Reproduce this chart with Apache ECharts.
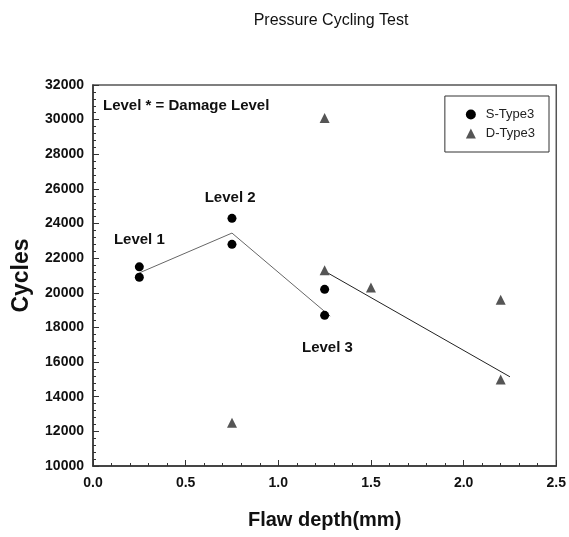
<!DOCTYPE html>
<html lang="en">
<head>
  <meta charset="UTF-8">
  <title>Pressure Cycling Test</title>
  <style>
    html, body { margin: 0; padding: 0; background: #fff; }
    #chart { width: 569px; height: 537px; }
  </style>
  <script src="https://cdn.jsdelivr.net/npm/echarts@6/dist/echarts.min.js"></script>
</head>
<body>
  <div id="chart"></div>
  <script>
    // measured points, flaw depth (mm) vs cycles
    const sTypeDepth = [0.25, 0.25, 0.75, 0.75, 1.25, 1.25];
    const sTypeCycles = [21500, 20900, 24300, 22800, 20200, 18700];
    const dTypeDepth = [0.75, 1.25, 1.25, 1.5, 2.2, 2.2];
    const dTypeCycles = [12500, 30100, 21300, 20300, 19600, 15000];

    // hand drawn trend lines
    const sTrendDepth = [0.25, 0.75, 1.28];
    const sTrendCycles = [21150, 23450, 18650];
    const dTrendDepth = [1.25, 2.25];
    const dTrendCycles = [21250, 15150];

    // damage level notes
    const noteText = ['Level 1', 'Level 2', 'Level 3'];
    const noteDepth = [0.25, 0.74, 1.265];
    const noteCycles = [23050, 25500, 16800];

    const font = 'Liberation Sans, Arial, sans-serif';
    const zip = (xs, ys) => xs.map((x, i) => [x, ys[i]]);

    const myChart = echarts.init(document.getElementById('chart'));

    const option = {
      animation: false,
      title: {
        text: 'Pressure Cycling Test',
        left: 326,
        top: 8,
        textAlign: 'center',
        textStyle: { fontFamily: font, fontSize: 16, fontWeight: 'normal', color: '#111' }
      },
      legend: {
        data: ['S-Type3', 'D-Type3'],
        orient: 'vertical',
        right: 20,
        top: 96,
        padding: [12, 14, 12, 21],
        itemGap: 6,
        itemWidth: 10,
        itemHeight: 10,
        borderColor: '#333',
        borderWidth: 1,
        textStyle: { fontFamily: font, fontSize: 13, color: '#222', padding: [0, 0, 0, 5] }
      },
      grid: {
        left: 93, right: 10, top: 85, bottom: 71,
        show: true,
        borderColor: '#555',
        borderWidth: 1.5
      },
      xAxis: {
        type: 'value',
        min: 0, max: 2.5, interval: 0.5,
        name: 'Flaw depth(mm)',
        nameLocation: 'middle',
        nameGap: 44,
        nameTextStyle: { fontFamily: font, fontSize: 20, fontWeight: 'bold', color: '#111' },
        axisLine: { lineStyle: { color: '#333', width: 1.5 } },
        axisTick: { inside: true, length: 6, lineStyle: { color: '#333' } },
        minorTick: { show: true, splitNumber: 5, length: 3, lineStyle: { color: '#333' } },
        splitLine: { show: false },
        axisLabel: {
          margin: 10,
          fontFamily: font, fontSize: 14, fontWeight: 'bold', color: '#111',
          formatter: v => v.toFixed(1)
        }
      },
      yAxis: {
        type: 'value',
        min: 10000, max: 32000, interval: 2000,
        name: 'Cycles',
        nameLocation: 'middle',
        nameGap: 60,
        nameTextStyle: { fontFamily: font, fontSize: 23, fontWeight: 'bold', color: '#111' },
        axisLine: { lineStyle: { color: '#333', width: 1.5 } },
        axisTick: { inside: true, length: 6, lineStyle: { color: '#333' } },
        minorTick: { show: true, splitNumber: 5, length: 3, lineStyle: { color: '#333' } },
        splitLine: { show: false },
        axisLabel: {
          margin: 9, fontFamily: font, fontSize: 14, fontWeight: 'bold', color: '#111',
          formatter: v => String(v)
        }
      },
      graphic: [{
        type: 'text',
        left: 103,
        top: 98,
        style: {
          text: 'Level * = Damage Level',
          font: 'bold 15px ' + font,
          fill: '#111'
        }
      }],
      series: [
        {
          name: 'S-trend',
          type: 'line',
          data: zip(sTrendDepth, sTrendCycles),
          symbol: 'none',
          lineStyle: { color: '#666', width: 1 },
          z: 1
        },
        {
          name: 'D-trend',
          type: 'line',
          data: zip(dTrendDepth, dTrendCycles),
          symbol: 'none',
          lineStyle: { color: '#222', width: 1 },
          z: 1
        },
        {
          name: 'S-Type3',
          type: 'scatter',
          data: zip(sTypeDepth, sTypeCycles),
          symbol: 'circle',
          symbolSize: 9,
          itemStyle: { color: '#000', opacity: 1 },
          z: 3
        },
        {
          name: 'D-Type3',
          type: 'scatter',
          data: zip(dTypeDepth, dTypeCycles),
          symbol: 'triangle',
          symbolSize: 10,
          itemStyle: { color: '#555', opacity: 1 },
          z: 3
        },
        {
          name: 'notes',
          type: 'scatter',
          data: noteText.map((t, i) => ({ name: t, value: [noteDepth[i], noteCycles[i]] })),
          symbolSize: 0,
          silent: true,
          itemStyle: { opacity: 1 },
          label: {
            show: true,
            position: 'inside',
            formatter: p => p.name,
            fontFamily: font, fontSize: 15, fontWeight: 'bold', color: '#111'
          }
        }
      ]
    };

    myChart.setOption(option);
  </script>
</body>
</html>
